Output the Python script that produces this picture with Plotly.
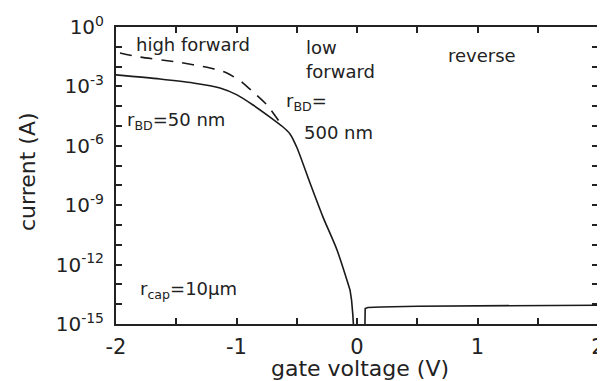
import plotly.graph_objects as go

# Solid curve: r_BD = 50 nm (gate voltage V, log10 current)
v_solid = [-2.0, -1.635, -1.36, -1.137, -0.996, -0.863, -0.722, -0.614, -0.556, -0.498,
           -0.39, -0.282, -0.166, -0.058]
logi_solid = [-2.42, -2.63, -2.83, -3.08, -3.43, -3.94, -4.55, -5.05, -5.4, -6.1,
              -7.88, -9.6, -11.26, -13.28]

# Final drop of the forward branch near 0 V
v_drop = [-0.058, -0.045, -0.035, -0.03]
logi_drop = [-13.28, -13.8, -14.5, -15.0]

# Reverse branch
v_rev = [0.066, 0.068, 0.09, 0.2, 0.5, 1.0, 1.5, 2.0]
logi_rev = [-15.0, -14.22, -14.17, -14.14, -14.1, -14.08, -14.06, -14.05]

# Dashed curve: r_BD = 500 nm
v_dash = [-1.967, -1.80, -1.49, -1.22, -1.08, -0.946, -0.863, -0.747, -0.614]
logi_dash = [-1.31, -1.52, -1.77, -2.07, -2.32, -2.83, -3.28, -3.94, -5.05]

x_ticks = [-2, -1.5, -1, -0.5, 0, 0.5, 1, 1.5, 2]
x_ticktext = ["-2", "", "-1", "", "0", "", "1", "", "2"]
y_exps = list(range(0, -16, -1))
y_labeled = [0, -3, -6, -9, -12, -15]

fig = go.Figure()
line_col = "#1a1a1a"
fig.add_trace(go.Scatter(x=v_solid, y=[10**e for e in logi_solid], mode="lines",
                         line=dict(color=line_col, width=1.6, shape="spline", smoothing=0.7),
                         showlegend=False))
fig.add_trace(go.Scatter(x=v_drop, y=[10**e for e in logi_drop], mode="lines",
                         line=dict(color=line_col, width=1.6), showlegend=False))
fig.add_trace(go.Scatter(x=v_rev, y=[10**e for e in logi_rev], mode="lines",
                         line=dict(color=line_col, width=1.6), showlegend=False))
fig.add_trace(go.Scatter(x=v_dash, y=[10**e for e in logi_dash], mode="lines",
                         line=dict(color=line_col, width=1.6, dash="12px,9px",
                                   shape="spline", smoothing=0.7),
                         showlegend=False))

# The page body adds an 8 px offset; margins are set so the plot lands where it should
W, H = 605, 381
L, R, T, B = 108, 15, 19, 65

font = "DejaVu Sans, Liberation Sans, sans-serif"
fig.update_layout(
    width=W, height=H,
    margin=dict(l=L, r=R, t=T, b=B, autoexpand=False),
    paper_bgcolor="white", plot_bgcolor="white",
    font=dict(family=font, color="#222", size=18),
)
fig.update_xaxes(range=[-2, 2], tickvals=x_ticks, ticktext=x_ticktext,
                 ticks="inside", ticklen=6, tickwidth=1.5, tickcolor="#222",
                 showline=True, linecolor="#222", linewidth=2, mirror="ticks",
                 showgrid=False, zeroline=False, automargin=False,
                 tickfont=dict(size=21, family=font), ticklabelstandoff=3)
fig.update_yaxes(type="log", range=[-15, 0],
                 tickvals=[10**e for e in y_exps],
                 ticktext=[("10<sup>%d</sup>" % e) if e in y_labeled else "" for e in y_exps],
                 ticks="inside", ticklen=6, tickwidth=1.5, tickcolor="#222",
                 showline=True, linecolor="#222", linewidth=2, mirror="ticks",
                 showgrid=False, zeroline=False, automargin=False,
                 tickfont=dict(size=20, family=font), ticklabelstandoff=6)

# screen pixel (in the 605x381 window) -> paper coordinates
def px(xp, yp):
    return (xp - 116) / (598 - 116), 1 - (yp - 27) / (324 - 27)

def ann(text, xp, yp, size=18, xanchor="left", angle=0):
    x, y = px(xp, yp)
    fig.add_annotation(text=text, x=x, y=y, xref="paper", yref="paper",
                       xanchor=xanchor, yanchor="middle", showarrow=False,
                       textangle=angle,
                       font=dict(size=size, family=font, color="#222"))

ann("high forward", 134, 45)
ann("low", 304, 47)
ann("forward", 304, 71)
ann("reverse", 446, 55)
ann("r<sub>BD</sub>=", 284, 102)
ann("500 nm", 302, 133)
ann("r<sub>BD</sub>=50 nm", 125, 121)
ann("r<sub>cap</sub>=10µm", 138, 290)
ann("gate voltage (V)", 360, 368, size=22, xanchor="center")
ann("current (A)", 27, 172, size=22, xanchor="center", angle=-90)

fig.write_html("out.html")
